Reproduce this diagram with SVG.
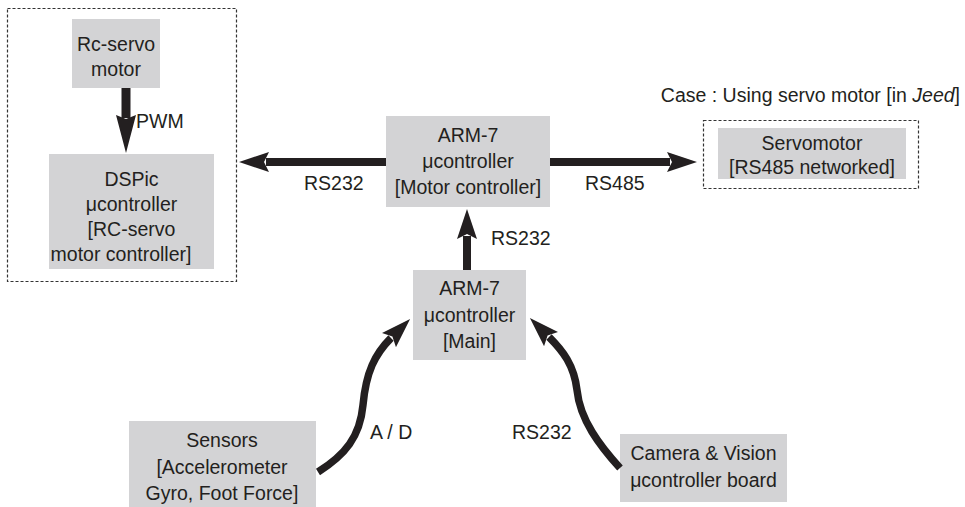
<svg xmlns="http://www.w3.org/2000/svg" width="965" height="507" viewBox="0 0 965 507">
<defs>
<style>
.box{fill:#d3d3d5;stroke:none}
.dash{fill:none;stroke:#333;stroke-width:1.2;stroke-dasharray:3,2}
text{font-family:"Liberation Sans",Arial,sans-serif;font-size:19.5px;fill:#231f20}
.c{text-anchor:middle}
.shaft{fill:none;stroke:#231f20;stroke-width:8}
.curve{fill:none;stroke:#231f20;stroke-width:7.5}
</style>
<marker id="ah" viewBox="0 0 30 20" markerWidth="30" markerHeight="20" markerUnits="userSpaceOnUse" refX="3" refY="10" orient="auto">
<path d="M0,0 L30,10 L0,20 L5,10 Z" fill="#231f20"/>
</marker>
<marker id="ahl" viewBox="0 0 38 20" markerWidth="38" markerHeight="20" markerUnits="userSpaceOnUse" refX="3" refY="10" orient="auto">
<path d="M0,0 L38,10 L0,20 L4,10 Z" fill="#231f20"/>
</marker>
</defs>
<rect width="965" height="507" fill="#fff"/>

<g id="rc-group">
<rect class="dash" x="7.5" y="8.5" width="229" height="273"/>
</g>
<g id="rc-servo">
<rect class="box" x="72" y="19" width="88" height="69"/>
<text class="c" x="116" y="51">Rc-servo</text>
<text class="c" x="116" y="76">motor</text>
</g>
<g id="dspic">
<rect class="box" x="49" y="154" width="165" height="115"/>
<text class="c" x="131.5" y="186">DSPic</text>
<text class="c" x="131.5" y="211">μcontroller</text>
<text class="c" x="131.5" y="236">[RC-servo</text>
<text class="c" x="121" y="261">motor  controller]</text>
</g>
<g id="motor-ctrl">
<rect class="box" x="386" y="116" width="164" height="91"/>
<text class="c" x="468" y="142">ARM-7</text>
<text class="c" x="468" y="168">μcontroller</text>
<text class="c" x="468" y="194">[Motor  controller]</text>
</g>
<g id="servo-group">
<text x="960" y="102" text-anchor="end">Case : Using servo motor [in <tspan font-style="italic">Jeed</tspan>]</text>
<rect class="dash" x="703.5" y="120.5" width="215" height="68"/>
</g>
<g id="servomotor">
<rect class="box" x="718" y="128" width="188" height="51"/>
<text class="c" x="812" y="150">Servomotor</text>
<text class="c" x="812" y="174">[RS485  networked]</text>
</g>
<g id="main">
<rect class="box" x="413" y="270" width="113" height="90"/>
<text class="c" x="469.5" y="295">ARM-7</text>
<text class="c" x="469.5" y="322">μcontroller</text>
<text class="c" x="469.5" y="348">[Main]</text>
</g>
<g id="sensors">
<rect class="box" x="129" y="421" width="187" height="86"/>
<text class="c" x="222" y="447">Sensors</text>
<text class="c" x="222" y="474">[Accelerometer</text>
<text class="c" x="222" y="500">Gyro,  Foot  Force]</text>
</g>
<g id="camera">
<rect class="box" x="620" y="434" width="167" height="68"/>
<text class="c" x="703.5" y="460">Camera  &amp;  Vision</text>
<text class="c" x="703.5" y="487">μcontroller  board</text>
</g>

<g id="connectors">
<path d="M126,88 V118" stroke="#231f20" stroke-width="9" fill="none" marker-end="url(#ahl)"/>
<text x="136" y="128">PWM</text>
<path class="shaft" d="M386,162 H266" marker-end="url(#ah)"/>
<text x="304" y="190">RS232</text>
<path class="shaft" d="M550,162 H670" marker-end="url(#ah)"/>
<text x="585" y="190">RS485</text>
<path class="shaft" d="M467,270 V236" marker-end="url(#ah)"/>
<text x="491" y="245">RS232</text>
<path class="curve" d="M318,472 C345,455 360,437 363,405 C366,372 375,354 391,338" marker-end="url(#ah)"/>
<text x="370" y="439">A / D</text>
<path class="curve" d="M620,468 C600,446 580,420 577,390 C574,365 563,351 549,337" marker-end="url(#ah)"/>
<text x="512" y="439">RS232</text>
</g>
</svg>
